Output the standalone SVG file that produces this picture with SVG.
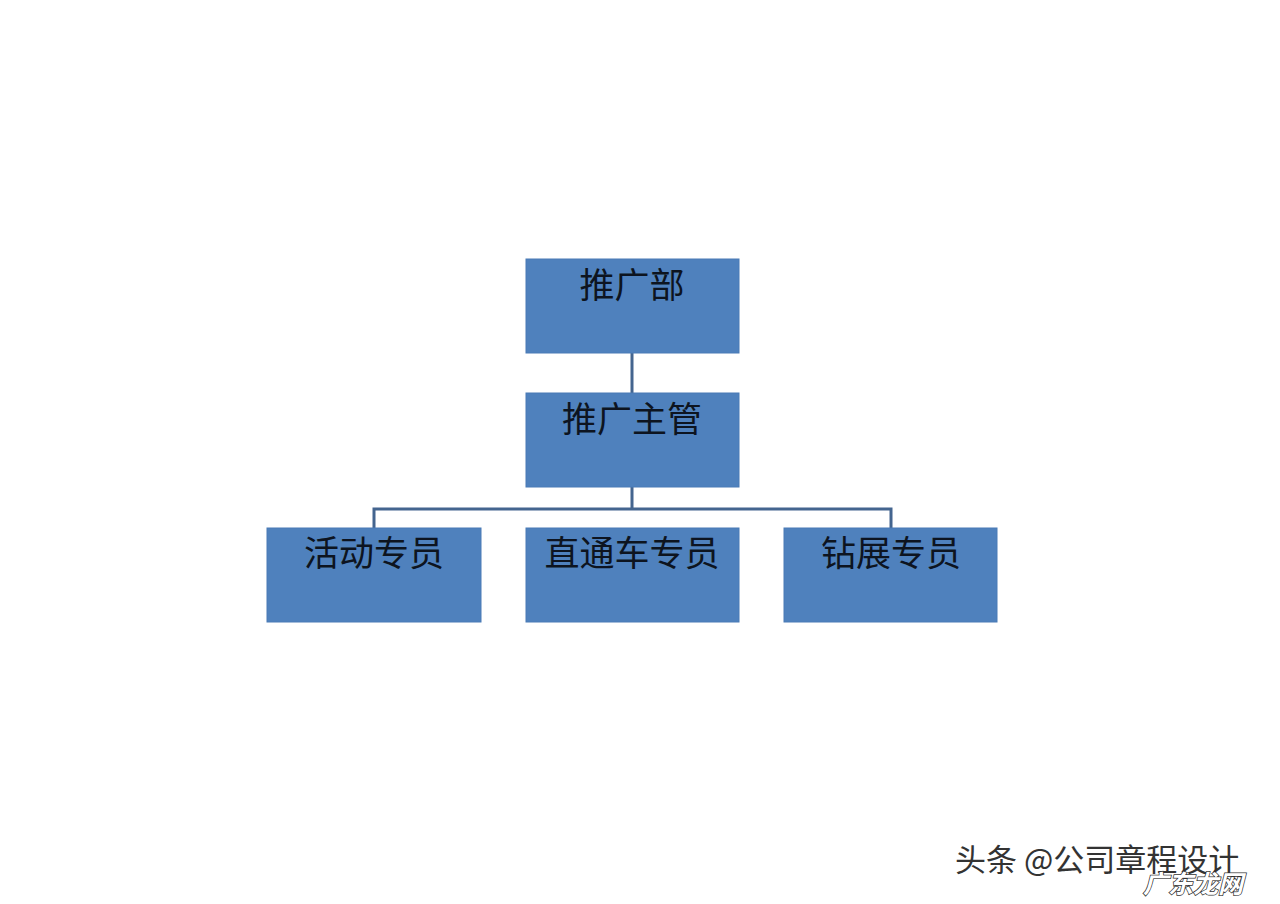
<svg xmlns="http://www.w3.org/2000/svg" width="1280" height="904" viewBox="0 0 1280 904">
<style>
.box{fill:#4f81bd;stroke:#4a7bb6;stroke-width:1}
.lbl{font-family:"Noto Sans CJK SC","Liberation Serif",serif;font-size:35px;fill:#0d1420;text-anchor:middle}
.conn{fill:none;stroke:#44658f;stroke-width:3}
.wm{font-family:"Noto Sans CJK SC",sans-serif;font-size:31px;fill:#333}
</style>
<rect width="1280" height="904" fill="#ffffff"/>
<g id="connectors">
<line class="conn" x1="632" y1="353" x2="632" y2="393"/>
<path class="conn" d="M632 487 V509 M374 528 V509 H891 V528"/>
</g>
<g id="n1"><rect class="box" x="526" y="259" width="213" height="94"/><text class="lbl" x="632" y="298">推广部</text></g>
<g id="n2"><rect class="box" x="526" y="393" width="213" height="94"/><text class="lbl" x="632" y="432">推广主管</text></g>
<g id="n3"><rect class="box" x="267" y="528" width="214" height="94"/><text class="lbl" x="374" y="566">活动专员</text></g>
<g id="n4"><rect class="box" x="526" y="528" width="213" height="94"/><text class="lbl" x="632" y="566">直通车专员</text></g>
<g id="n5"><rect class="box" x="784" y="528" width="213" height="94"/><text class="lbl" x="891" y="566">钻展专员</text></g>
<g id="watermark">
<text class="wm" x="955" y="871" style="paint-order:stroke;stroke:#fff;stroke-width:2">头条 @公司章程设计</text>
<text x="1143" y="893" font-family="Noto Sans CJK SC,sans-serif" font-size="25" font-weight="bold" font-style="italic" fill="#fff" stroke="#333" stroke-width="1.5" style="paint-order:stroke">广东龙网</text>
</g>
</svg>
